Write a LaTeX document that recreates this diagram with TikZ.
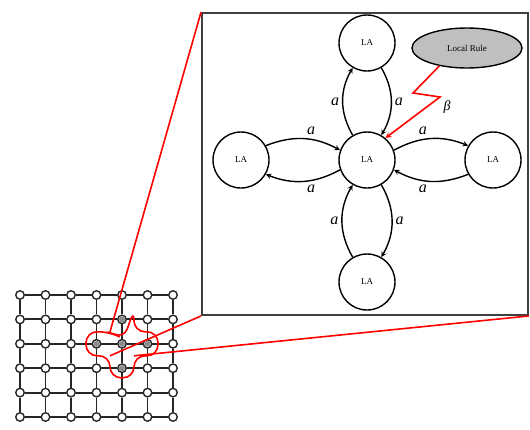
\documentclass[tikz,border=0pt]{standalone}
\usepackage{fontspec}
\setmainfont{Liberation Serif}
\usetikzlibrary{shapes.geometric, arrows}
\tikzstyle{arrow} = [line width=1.4pt,->,>=stealth]
\tikzstyle{la} = [circle, draw, line width=1.4pt, minimum size=56pt, inner sep=0pt, font=\fontsize{9}{9}\selectfont]
\tikzstyle{lbl} = [font=\fontsize{16}{16}\selectfont\itshape, inner sep=3pt]
\tikzstyle{cell} = [circle, draw=black!85, fill=white, line width=1.4pt, minimum size=8.5pt, inner sep=0pt]
\tikzstyle{link} = [black!85, line width=1.9pt]
\tikzstyle{redline} = [red, line width=1.6pt]

\begin{document}
\begin{tikzpicture}[x=1pt, y=-1pt, node distance=122pt]
\useasboundingbox (0,0) rectangle (530,429);

% zoomed view
\node (box) [draw=black!75, line width=1.9pt, minimum width=326pt, minimum height=302pt, inner sep=0pt] at (365,164) {};

\node (la) [la] at (367,160) {LA};
\node (top) [la, above of=la, node distance=117pt] {LA};
\node (left) [la, left of=la, node distance=126pt] {LA};
\node (right) [la, right of=la, node distance=126pt] {LA};
\node (bot) [la, below of=la] {LA};
\node (rule) [ellipse, draw, fill=black!25, line width=1.4pt, minimum width=110pt, minimum height=40pt, font=\fontsize{9}{9}\selectfont] at (467,48) {Local Rule};

\draw[arrow] (la.120) to[bend left=30] node[lbl, auto] {a} (top.240);
\draw[arrow] (top.300) to[bend left=30] node[lbl, auto] {a} (la.60);
\draw[arrow] (left.30) to[bend left=25] node[lbl, auto] {a} (la.160);
\draw[arrow] (la.200) to[bend left=25] node[lbl, auto] {a} (left.330);
\draw[arrow] (la.20) to[bend left=25] node[lbl, auto] {a} (right.150);
\draw[arrow] (right.210) to[bend left=25] node[lbl, auto] {a} (la.340);
\draw[arrow] (bot.120) to[bend left=30] node[lbl, auto] {a} (la.240);
\draw[arrow] (la.300) to[bend left=30] node[lbl, auto] {a} (bot.60);

% rule signal
\coordinate (z1) at (413,93);
\coordinate (z2) at (440,97);
\draw[redline, ->, >=stealth] (rule.213) -- (z1) -- (z2) -- (la.50);
\node (beta) [font=\fontsize{14}{14}\selectfont\itshape] at (447,107) {β};

% lattice
\foreach \i in {0,...,6}
  \foreach \j in {0,...,5}
    \node (g\i\j) [cell] at ({20+25.5*\i},{295+24.4*\j}) {};
\foreach \n in {g41,g32,g42,g52,g43}
  \fill[black!45] (\n) circle (3pt);
\foreach \i in {0,...,6}
  \foreach \j [count=\k] in {0,...,4}
    \draw[link] (g\i\j) -- (g\i\k);
\foreach \i [count=\k] in {0,...,5}
  \foreach \j in {0,...,5}
    \draw[link] (g\i\j) -- (g\k\j);

% neighbourhood
\draw[redline, rounded corners=11pt] ([shift={(-12,-34)}]g42) -- ++(24,0) -- ++(0,22) -- ++(24,0) -- ++(0,24) -- ++(-24,0) -- ++(0,22) -- ++(-24,0) -- ++(0,-22) -- ++(-24,0) -- ++(0,-24) -- ++(24,0) -- cycle;
\coordinate (c1) at ([shift={(-12,-12)}]g42);
\coordinate (c2) at ([shift={(-12,12)}]g42);
\coordinate (c3) at ([shift={(12,12)}]g42);
\draw[redline] (c1) -- (box.north west);
\draw[redline] (c2) -- (box.south west);
\draw[redline] (c3) -- (box.south east);

\end{tikzpicture}
\end{document}
